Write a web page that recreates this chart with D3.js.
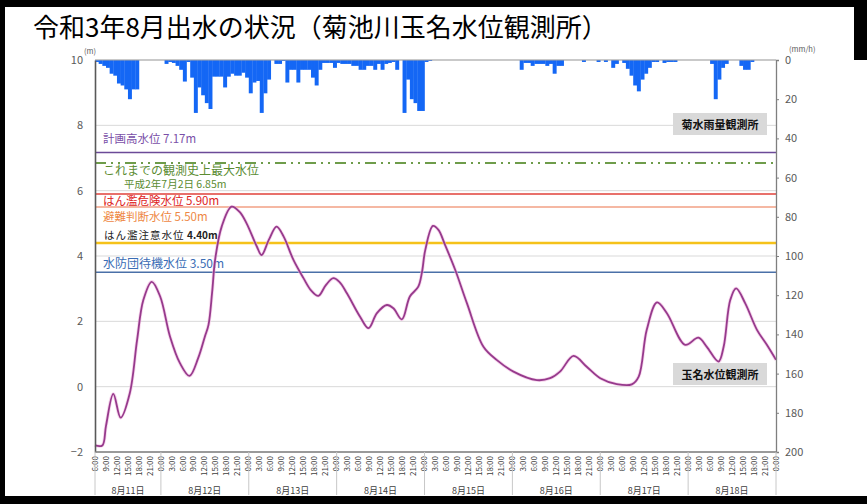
<!DOCTYPE html>
<html><head><meta charset="utf-8">
<script src="https://cdn.jsdelivr.net/npm/d3@7"></script>
<style>body{margin:0;background:#fff;} svg{display:block;} text{font-family:"Noto Sans CJK JP","Noto Sans",sans-serif;}</style>
</head><body><svg id="chart" width="867" height="504"></svg>
<script>
// ---- data ----
const titleText = "令和3年8月出水の状況（菊池川玉名水位観測所）";
const dayLabels = ["8月11日","8月12日","8月13日","8月14日","8月15日","8月16日","8月17日","8月18日"];
const dayStartHours = [0, 18, 42, 66, 90, 114, 138, 162, 186]; // hours from 8/11 6:00
const clockLabels = ["0:00","3:00","6:00","9:00","12:00","15:00","18:00","21:00"];
const levelTicks = [-2, 0, 2, 4, 6, 8, 10];
const rainTicks = [0, 20, 40, 60, 80, 100, 120, 140, 160, 180, 200];

// hourly rainfall (mm/h), 菊水雨量観測所
const rain11 = [1,2,3,4,7,8,12,13,15,20,15,15,0,0,0,0,0,0];
const rain12 = [0,2,1,1.5,3,5,11,1,9,27,14,18,22,25,8.5,8.5,8.5,14,8.5,7,8,8,6.5,9];
const rain13 = [17,11.5,10.7,27,17,10,0,2,2,0.5,11.5,5,5,11.5,5,5,5,9,13,5,1.5,1.5,1.5,4];
const rain14 = [1.5,2,2,2,3,3,5,5,3,3,5,2,5,2,1.5,1,5,0,27,10,20,22,26,26];
const rain15 = [1,0.5,0,0,0,0,0,0,0,0,0,0,0,0,0,0,0,0,0,0,0,0,0,0];
const rain16 = [0,0,5,1.5,1.5,3,2,2,2,3,2,7,3,3,0,0,0,0,0,1,0,0,0,1];
const rain17 = [0,1,0,4,2,0,1.5,4.5,8,13,16,10,7,4,1,1,0,1.5,1,1,1,0,0,0];
const rain18 = [0,0,0,0,0,0,2,20,10,4,2,0,0,0,3,5,5,1,0,0,0,0,0,0];

// water level (m), 玉名水位観測所 : hours from 8/11 6:00 and level
const levelHours  = [0,2,3,5,7,9.5,11.5,13.2,15.5,17.8,20.5,23.2,25.8,28.2,30,31,32,32.8,34.6,37.3,39.5,41.4,44.2,45.5,47.5,49.6,51.5,54.2,56.9,59,61,63,65.1,66.8,68.8,72.4,74.7,77,79.7,81.5,83.8,86,88.3,89.3,90.2,92.3,93.8,95.6,98.4,101.6,106.1,109.7,114.3,120.7,124.3,127,130.7,134.3,138,142.5,146.6,148.5,150.7,153.5,156.2,161.2,164.8,167.1,170.3,171.7,173.5,175.1,177.6,180.8,183.5,186];
const levelValues = [-1.8,-1.8,-1.2,-0.22,-0.95,-0.2,1.43,2.65,3.21,2.76,1.53,0.72,0.33,0.88,1.53,1.89,2.9,3.88,4.9,5.51,5.35,5.0,4.29,4.03,4.5,4.9,4.6,3.88,3.33,2.95,2.78,3.1,3.32,3.2,2.86,2.14,1.79,2.25,2.5,2.4,2.06,2.76,3.06,3.5,4.18,4.92,4.8,4.34,3.57,2.55,1.22,0.82,0.46,0.2,0.26,0.46,0.94,0.61,0.26,0.08,0.07,0.31,1.74,2.58,2.25,1.28,1.5,1.22,0.77,1.22,2.65,3.01,2.55,1.74,1.28,0.82];

// threshold levels
const thresholdNames  = ["計画高水位","これまでの観測史上最大水位","はん濫危険水位","避難判断水位","はん濫注意水位","水防団待機水位"];
const thresholdValues = [7.17, 6.85, 5.90, 5.50, 4.40, 3.50];
const recordDateText = "平成2年7月2日";

// ---- styles ----
const thrStyle = [
  {stroke:"#6b4a98", w:1.6, dash:null, fill:"#7a4fa8", fs:11.5, dy:-9},
  {stroke:"#6e9c4a", w:2, dash:"11,5,2,5,2,5", fill:"#5b8c32", fs:12, dy:12},
  {stroke:"#e0403a", w:1.5, dash:null, fill:"#dd2222", fs:11.5, dy:11},
  {stroke:"#f2a084", w:1.6, dash:null, fill:"#ee8844", fs:11.5, dy:14},
  {stroke:"#f5c21a", w:2.4, dash:null, fill:"#222", fs:10.5, dy:-4},
  {stroke:"#4a70a8", w:1.5, dash:null, fill:"#3a6db5", fs:12, dy:-4}
];

const svg = d3.select("#chart");
const L = 95, R = 776, T = 60, B = 452;
const rain = [].concat(rain11, rain12, rain13, rain14, rain15, rain16, rain17, rain18);

const x = d3.scaleLinear().domain([0, 186]).range([L, R]);
const yL = d3.scaleLinear().domain([-2, 10]).range([B, T]);
const yR = d3.scaleLinear().domain([0, 200]).range([T, B]);

svg.append("rect").attr("width",867).attr("height",504).attr("fill","#fff");

// title
svg.append("text").attr("x",33).attr("y",37).attr("font-size",26).attr("fill","#000").text(titleText);

// gridlines
svg.append("g").selectAll("line").data(levelTicks).join("line")
  .attr("x1",L).attr("x2",R).attr("y1",d=>yL(d)).attr("y2",d=>yL(d))
  .attr("stroke","#d9d9d9").attr("stroke-width",1);

// rainfall bars
svg.append("g").selectAll("rect").data(rain).join("rect")
  .attr("x",(d,i)=>x(i)).attr("width",(d,i)=>x(i+1)-x(i)+0.3)
  .attr("y",yR(0)).attr("height",d=>yR(d)-yR(0))
  .attr("fill","#1467f5");

// threshold lines
const thr = svg.append("g");
thresholdValues.forEach((v,i)=>{
  const s = thrStyle[i];
  const ln = thr.append("line").attr("x1",L).attr("x2",R).attr("y1",yL(v)).attr("y2",yL(v))
    .attr("stroke",s.stroke).attr("stroke-width",s.w);
  if (s.dash) ln.attr("stroke-dasharray",s.dash);
});

// threshold labels
const lab = svg.append("g");
function fmt(v){ return v.toFixed(2) + "m"; }
lab.append("text").attr("x",103).attr("y",yL(thresholdValues[0])+thrStyle[0].dy)
  .attr("font-size",thrStyle[0].fs).attr("fill",thrStyle[0].fill)
  .text(thresholdNames[0] + " " + fmt(thresholdValues[0]));
lab.append("text").attr("x",103).attr("y",yL(thresholdValues[1])+thrStyle[1].dy)
  .attr("font-size",thrStyle[1].fs).attr("fill",thrStyle[1].fill)
  .text(thresholdNames[1]);
lab.append("text").attr("x",124).attr("y",yL(thresholdValues[1])+25.5)
  .attr("font-size",10.5).attr("fill",thrStyle[1].fill)
  .text(recordDateText + " " + fmt(thresholdValues[1]));
lab.append("text").attr("x",103).attr("y",yL(thresholdValues[2])+thrStyle[2].dy)
  .attr("font-size",thrStyle[2].fs).attr("fill",thrStyle[2].fill)
  .text(thresholdNames[2] + " " + fmt(thresholdValues[2]));
lab.append("text").attr("x",103).attr("y",yL(thresholdValues[3])+thrStyle[3].dy)
  .attr("font-size",thrStyle[3].fs).attr("fill",thrStyle[3].fill)
  .text(thresholdNames[3] + " " + fmt(thresholdValues[3]));
const t4 = lab.append("text").attr("x",104).attr("y",yL(thresholdValues[4])+thrStyle[4].dy)
  .attr("font-size",thrStyle[4].fs).attr("fill",thrStyle[4].fill);
t4.append("tspan").attr("letter-spacing",1).text(thresholdNames[4]);
t4.append("tspan").attr("x",187).attr("font-weight","bold").attr("font-size",10).text(fmt(thresholdValues[4]));
lab.append("text").attr("x",103).attr("y",yL(thresholdValues[5])+thrStyle[5].dy)
  .attr("font-size",thrStyle[5].fs).attr("fill",thrStyle[5].fill)
  .text(thresholdNames[5] + " " + fmt(thresholdValues[5]));

// water level line
const lineGen = d3.line().x(d=>x(d[0])).y(d=>yL(d[1])).curve(d3.curveCatmullRom.alpha(0.5));
const pts = levelHours.map((h,i)=>[h, levelValues[i]]);
svg.append("path").datum(pts).attr("d",lineGen).attr("fill","none")
  .attr("stroke","#f0b8e0").attr("stroke-width",3.4).attr("opacity",0.6);
svg.append("path").datum(pts).attr("d",lineGen).attr("fill","none")
  .attr("stroke","#963a8c").attr("stroke-width",1.8);

// axes
const axL = svg.append("g").attr("transform",`translate(${L},0)`)
  .call(d3.axisLeft(yL).tickValues(levelTicks).tickSize(0).tickPadding(12).tickFormat(d3.format("d")));
const axR = svg.append("g").attr("transform",`translate(${R},0)`)
  .call(d3.axisRight(yR).tickValues(rainTicks).tickSize(3).tickPadding(6));
[axL, axR].forEach(a=>{
  a.select(".domain").attr("stroke","#7f7f7f").attr("stroke-width",1.3);
  a.selectAll(".tick line").attr("stroke","#7f7f7f");
  a.selectAll("text").attr("font-size",11).attr("fill","#595959").attr("font-family","'Open Sans','Noto Sans',sans-serif");
});
axL.select(".domain").attr("stroke","#595959").attr("stroke-width",1.6);
// top border & bottom axis
svg.append("line").attr("x1",L).attr("x2",R).attr("y1",T).attr("y2",T).attr("stroke","#a6a6a6").attr("stroke-width",1);
svg.append("line").attr("x1",L).attr("x2",R).attr("y1",B).attr("y2",B).attr("stroke","#7f7f7f").attr("stroke-width",1.5);

// unit labels
svg.append("text").attr("x",84).attr("y",54).attr("font-size",7.5).attr("fill","#595959").text("(m)");
svg.append("text").attr("x",789).attr("y",52).attr("font-size",7.5).attr("fill","#595959").text("(mm/h)");

// x tick labels
const tickHours = d3.range(0, 187, 3);
svg.append("g").selectAll("text").data(tickHours).join("text")
  .attr("transform",h=>`translate(${x(h)},456) rotate(-90)`)
  .attr("text-anchor","end").attr("dy","0.33em")
  .attr("font-size",8).attr("fill","#404040").attr("font-family","'Open Sans','Noto Sans',sans-serif")
  .text(h=>clockLabels[((h+6)%24)/3]);

// day separators & labels
svg.append("g").selectAll("line").data(dayStartHours).join("line")
  .attr("x1",d=>x(d)).attr("x2",d=>x(d)).attr("y1",B).attr("y2",495)
  .attr("stroke","#c8c8c8").attr("stroke-width",1);
svg.append("g").selectAll("text").data(dayLabels).join("text")
  .attr("x",(d,i)=>(x(dayStartHours[i])+x(dayStartHours[i+1]))/2).attr("y",494)
  .attr("text-anchor","middle").attr("font-size",9).attr("fill","#404040").text(d=>d);

// station boxes
const boxes = [{label:"菊水雨量観測所", y:113},{label:"玉名水位観測所", y:363}];
boxes.forEach(b=>{
  svg.append("rect").attr("x",673).attr("y",b.y).attr("width",94).attr("height",22).attr("fill","#d9d9d9");
  svg.append("text").attr("x",720).attr("y",b.y+15.5).attr("text-anchor","middle")
    .attr("font-size",11).attr("font-weight","bold").attr("fill","#111").text(b.label);
});

// black frame
svg.append("rect").attr("x",0).attr("y",0).attr("width",867).attr("height",7).attr("fill","#000");
svg.append("rect").attr("x",0).attr("y",0).attr("width",5).attr("height",504).attr("fill","#000");
svg.append("rect").attr("x",0).attr("y",496).attr("width",867).attr("height",8).attr("fill","#000");
svg.append("rect").attr("x",854).attr("y",0).attr("width",13).attr("height",60).attr("fill","#000");
</script></body></html>
